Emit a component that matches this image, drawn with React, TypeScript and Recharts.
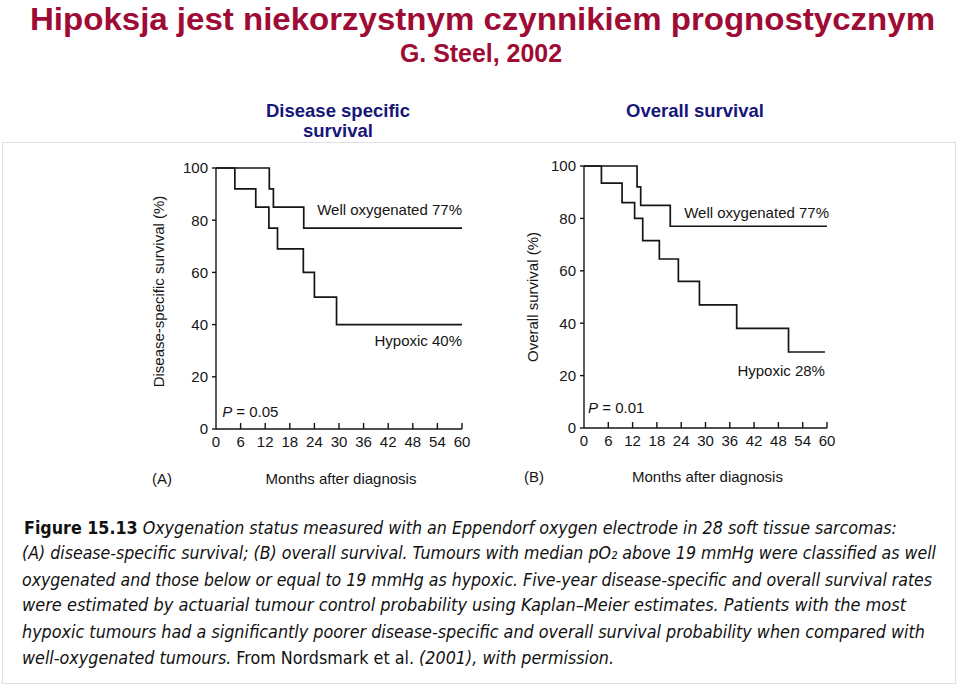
import React from 'react';
import { LineChart, Line, XAxis, YAxis, ReferenceDot, Label } from 'recharts';

// Panel A: disease-specific survival (months after diagnosis -> %)
const dssWellMonths = [0, 13, 14, 21.4, 60];
const dssWellPct = [100, 92, 85, 77, 77];
const dssHypMonths = [0, 4.6, 9.7, 12.9, 15, 21.3, 24, 29.4, 60];
const dssHypPct = [100, 92, 85, 77, 69, 60, 50.5, 40, 40];

// Panel B: overall survival
const osWellMonths = [0, 13.1, 14, 21.3, 60];
const osWellPct = [100, 92, 85, 77, 77];
const osHypMonths = [0, 4.3, 9.4, 12.5, 14.5, 18.6, 23.3, 28.5, 37.7, 50.5, 59.5];
const osHypPct = [100, 93.5, 86, 80, 71.5, 64.5, 56, 47, 38, 29, 29];

const monthTicks = [0, 6, 12, 18, 24, 30, 36, 42, 48, 54, 60];
const pctTicks = [0, 20, 40, 60, 80, 100];

const zip = (t: number[], s: number[]) => t.map((v, i) => ({ t: v, s: s[i] }));

const INK = '#151515';
const FONT = "'Liberation Sans', Arial, Helvetica, sans-serif";

// x ticks point up into the plot, labels sit below the axis
const InTick = ({ x, y, payload }: any) => (
  <g>
    {payload.value > 0 && (
      <line x1={x} x2={x} y1={y - 7} y2={y - 13} stroke={INK} strokeWidth={1.4} />
    )}
    <text x={x} y={y} dy="0.72em" textAnchor="middle" fontSize={15} fill={INK} fontFamily={FONT}>
      {payload.value}
    </text>
  </g>
);

const note = (text: React.ReactNode, anchor: 'start' | 'end') => (p: any) => (
  <text x={p.cx} y={p.cy} textAnchor={anchor} dominantBaseline="central" fontSize={15} fill={INK} fontFamily={FONT}>
    {text}
  </text>
);

interface PanelProps {
  left: number;
  top: number;
  width: number;
  height: number;
  margin: { top: number; right: number; bottom: number; left: number };
  yWidth: number;
  yTitle: string;
  yTitleDx: number;
  yTitleDy: number;
  tag: string;
  tagDx: number;
  xTitleDy: number;
  well: { t: number; s: number }[];
  hyp: { t: number; s: number }[];
  wellNote: [number, number];
  hypNote: [number, number];
  hypText: string;
  pNote: [number, number];
  pText: string;
}

const Panel = (p: PanelProps) => (
  <div style={{ position: 'absolute', left: p.left, top: p.top }}>
    <LineChart width={p.width} height={p.height} margin={p.margin}>
      <XAxis
        type="number"
        dataKey="t"
        domain={[0, 60]}
        ticks={monthTicks}
        interval={0}
        tickSize={0}
        tickMargin={7}
        tick={<InTick />}
        stroke={INK}
        strokeWidth={1.4}
        height={30}
      >
        <Label
          content={({ viewBox }: any) => (
            <g fontFamily={FONT} fontSize={15} fill={INK}>
              <text x={viewBox.x + viewBox.width / 2 + 2} y={viewBox.y + viewBox.height + p.xTitleDy} textAnchor="middle" dominantBaseline="central">
                Months after diagnosis
              </text>
              <text x={viewBox.x + p.tagDx} y={viewBox.y + viewBox.height + p.xTitleDy} dominantBaseline="central">
                {p.tag}
              </text>
            </g>
          )}
        />
      </XAxis>
      <YAxis
        type="number"
        domain={[0, 100]}
        ticks={pctTicks}
        interval={0}
        width={p.yWidth}
        tickSize={4}
        tickMargin={4}
        stroke={INK}
        strokeWidth={1.4}
        tick={{ fontSize: 15, fill: INK, fontFamily: FONT }}
      >
        <Label
          content={({ viewBox }: any) => {
            const cx = viewBox.x + p.yTitleDx;
            const cy = viewBox.y + viewBox.height / 2 + p.yTitleDy;
            return (
              <text
                x={cx}
                y={cy}
                transform={`rotate(-90 ${cx} ${cy})`}
                textAnchor="middle"
                dominantBaseline="central"
                fontSize={15}
                fill={INK}
                fontFamily={FONT}
              >
                {p.yTitle}
              </text>
            );
          }}
        />
      </YAxis>
      <Line data={p.well} dataKey="s" type="stepAfter" stroke={INK} strokeWidth={1.7} dot={false} isAnimationActive={false} />
      <Line data={p.hyp} dataKey="s" type="stepAfter" stroke={INK} strokeWidth={1.7} dot={false} isAnimationActive={false} />
      <ReferenceDot x={p.wellNote[0]} y={p.wellNote[1]} r={0} ifOverflow="visible" shape={note('Well oxygenated 77%', 'end')} />
      <ReferenceDot x={p.hypNote[0]} y={p.hypNote[1]} r={0} ifOverflow="visible" shape={note(p.hypText, 'end')} />
      <ReferenceDot
        x={p.pNote[0]}
        y={p.pNote[1]}
        r={0}
        ifOverflow="visible"
        shape={note(
          <>
            <tspan fontStyle="italic">P</tspan>
            <tspan>{' = ' + p.pText}</tspan>
          </>,
          'start'
        )}
      />
    </LineChart>
  </div>
);

const RED = '#9e0b34';
const NAVY = '#16167a';

const Header = () => (
  <svg width={960} height={145} style={{ position: 'absolute', left: 0, top: 0 }} fontFamily={FONT} fontWeight="bold">
    <text x={30} y={30} fontSize={32} fill={RED} textLength={905} lengthAdjust="spacingAndGlyphs">
      Hipoksja jest niekorzystnym czynnikiem prognostycznym
    </text>
    <text x={400} y={62} fontSize={25} fill={RED} textLength={162} lengthAdjust="spacingAndGlyphs">
      G. Steel, 2002
    </text>
    <text x={338} y={117} fontSize={18.5} fill={NAVY} textAnchor="middle">Disease specific</text>
    <text x={338} y={137} fontSize={18.5} fill={NAVY} textAnchor="middle">survival</text>
    <text x={695} y={117} fontSize={18.5} fill={NAVY} textAnchor="middle">Overall survival</text>
  </svg>
);

const CAP_FONT = "'DejaVu Sans Condensed', 'Liberation Sans Narrow', 'Liberation Sans', sans-serif";

const Caption = () => (
  <svg width={960} height={170} style={{ position: 'absolute', left: 0, top: 510 }} fontFamily={CAP_FONT} fontSize={18} fill="#111">
    <text x={24} y={24} textLength={873} lengthAdjust="spacingAndGlyphs">
      <tspan fontWeight="bold">Figure 15.13</tspan>
      <tspan fontStyle="italic"> Oxygenation status measured with an Eppendorf oxygen electrode in 28 soft tissue sarcomas:</tspan>
    </text>
    <text x={22} y={49} textLength={914} lengthAdjust="spacingAndGlyphs" fontStyle="italic">
      (A) disease-specific survival; (B) overall survival. Tumours with median pO₂ above 19 mmHg were classified as well
    </text>
    <text x={22} y={76} textLength={910} lengthAdjust="spacingAndGlyphs" fontStyle="italic">
      oxygenated and those below or equal to 19 mmHg as hypoxic. Five-year disease-specific and overall survival rates
    </text>
    <text x={22} y={101} textLength={884} lengthAdjust="spacingAndGlyphs" fontStyle="italic">
      were estimated by actuarial tumour control probability using Kaplan–Meier estimates. Patients with the most
    </text>
    <text x={22} y={128} textLength={903} lengthAdjust="spacingAndGlyphs" fontStyle="italic">
      hypoxic tumours had a significantly poorer disease-specific and overall survival probability when compared with
    </text>
    <text x={22} y={154} textLength={592} lengthAdjust="spacingAndGlyphs">
      <tspan fontStyle="italic">well-oxygenated tumours. </tspan>
      <tspan>From Nordsmark et al. </tspan>
      <tspan fontStyle="italic">(2001), with permission.</tspan>
    </text>
  </svg>
);

export default function App() {
  return (
    <div style={{ position: 'absolute', left: 0, top: 0, width: 960, height: 685, background: '#fff', overflow: 'hidden' }}>
      <Header />
      <div style={{ position: 'absolute', left: 2, top: 142, width: 952, height: 540, border: '1px solid #e0e0e0' }} />
      <Panel
        left={140}
        top={150}
        width={340}
        height={339}
        margin={{ top: 18, right: 18, bottom: 30, left: 10 }}
        yWidth={66}
        yTitle="Disease-specific survival (%)"
        yTitleDx={8}
        yTitleDy={-7}
        tag="(A)"
        tagDx={-64}
        xTitleDy={19}
        well={zip(dssWellMonths, dssWellPct)}
        hyp={zip(dssHypMonths, dssHypPct)}
        wellNote={[60, 84]}
        hypNote={[60, 34]}
        hypText="Hypoxic 40%"
        pNote={[1.5, 7]}
        pText="0.05"
      />
      <Panel
        left={510}
        top={150}
        width={335}
        height={338}
        margin={{ top: 16, right: 18, bottom: 30, left: 10 }}
        yWidth={64}
        yTitle="Overall survival (%)"
        yTitleDx={12}
        yTitleDy={0}
        tag="(B)"
        tagDx={-60}
        xTitleDy={18}
        well={zip(osWellMonths, osWellPct)}
        hyp={zip(osHypMonths, osHypPct)}
        wellNote={[60.5, 82.4]}
        hypNote={[59.5, 21.8]}
        hypText="Hypoxic 28%"
        pNote={[1, 8]}
        pText="0.01"
      />
      <Caption />
    </div>
  );
}
